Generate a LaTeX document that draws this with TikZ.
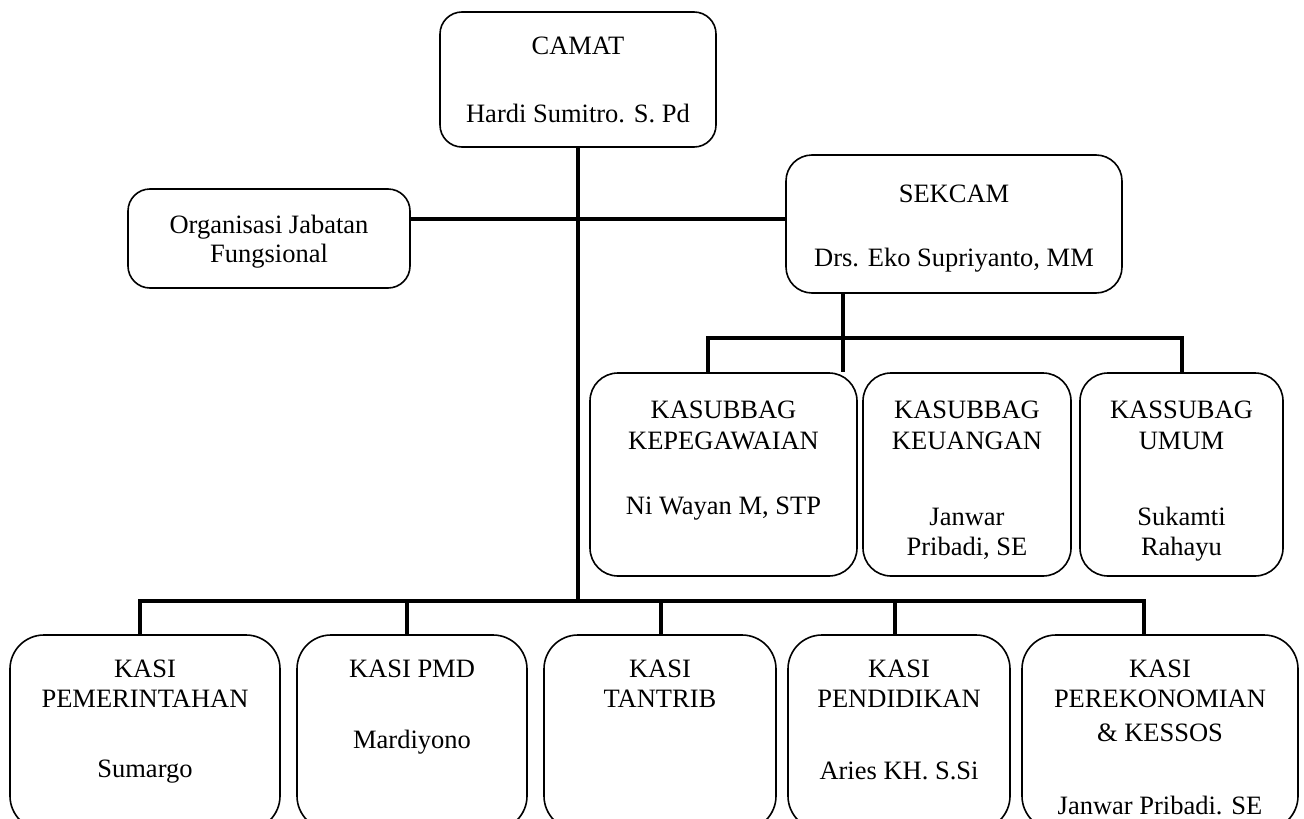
\documentclass[tikz,border=0pt]{standalone}
\usepackage{fontspec}
\setmainfont{Liberation Serif}
\begin{document}
\begin{tikzpicture}[x=1pt,y=-1pt,
  box/.style={draw, line width=1.6pt, rounded corners=28pt, inner sep=0pt},
  bigbox/.style={box, rounded corners=34pt},
  conn/.style={line width=4pt},
  txt/.style={anchor=base, inner sep=0pt, font=\fontsize{26.5}{30}\selectfont}]
\useasboundingbox (0,0) rectangle (1304,819);
\clip (0,0) rectangle (1304,819);
\fill[white] (0,0) rectangle (1304,819);

% top boxes
\node[box, rounded corners=22pt, minimum width=276pt, minimum height=135pt] (camat) at (578,79.5) {};
\node[box, rounded corners=22pt, minimum width=282pt, minimum height=99pt] (org) at (269,238.5) {};
\node[box, rounded corners=26pt, minimum width=336pt, minimum height=138pt] (sekcam) at (954,224) {};

% kasubbag boxes
\node[box, minimum width=267pt, minimum height=203pt] (sub1) at (723.5,474.5) {};
\node[box, minimum width=208pt, minimum height=203pt] (sub2) at (967,474.5) {};
\node[box, minimum width=203pt, minimum height=203pt] (sub3) at (1181.5,474.5) {};

% kasi boxes
\node[bigbox, minimum width=270pt, minimum height=195pt] (kasi1) at (145,732.5) {};
\node[bigbox, minimum width=230pt, minimum height=195pt] (kasi2) at (412,732.5) {};
\node[bigbox, minimum width=232pt, minimum height=195pt] (kasi3) at (660,732.5) {};
\node[bigbox, minimum width=222pt, minimum height=195pt] (kasi4) at (899,732.5) {};
\node[bigbox, minimum width=276pt, minimum height=195pt] (kasi5) at (1160,732.5) {};

% connectors
\coordinate (busA) at (580,219);
\coordinate (busB) at (580,601);
\coordinate (busC) at (843,338);
\draw[conn] (camat.south) -- (camat.south |- busB);
\draw[conn] (org.east |- busA) -- (sekcam.west |- busA);
\draw[conn] (sekcam.south -| busC) -- (busC);
\draw[conn] ([xshift=-16pt]sub1.north) |- (sub3.north |- busC) -- (sub3.north);
\draw[conn] (busC) -- (sub2.north -| busC);
\draw[conn] ([xshift=-5pt]kasi1.north) |- ([xshift=-16pt]kasi5.north |- busB) -- ([xshift=-16pt]kasi5.north);
\draw[conn] ([xshift=-5pt]kasi2.north) -- ([xshift=-5pt]kasi2.north |- busB);
\draw[conn] ([xshift=1pt]kasi3.north) -- ([xshift=1pt]kasi3.north |- busB);
\draw[conn] ([xshift=-4pt]kasi4.north) -- ([xshift=-4pt]kasi4.north |- busB);

% texts
\node[txt] (t1) at (578,54) {CAMAT};
\node[txt] (t2) at (578,122) {Hardi Sumitro. S. Pd};
\node[txt] (t3) at (269,233) {Organisasi Jabatan};
\node[txt] (t4) at (269,262) {Fungsional};
\node[txt] (t5) at (954,202) {SEKCAM};
\node[txt] (t6) at (954,266) {Drs. Eko Supriyanto, MM};

\node[txt] (t7) at (723.5,418) {KASUBBAG};
\node[txt] (t8) at (723.5,449) {KEPEGAWAIAN};
\node[txt] (t9) at (723.5,514) {Ni Wayan M, STP};
\node[txt] (t10) at (967,418) {KASUBBAG};
\node[txt] (t11) at (967,449) {KEUANGAN};
\node[txt] (t12) at (967,525) {Janwar};
\node[txt] (t13) at (967,555) {Pribadi, SE};
\node[txt] (t14) at (1181.5,418) {KASSUBAG};
\node[txt] (t15) at (1181.5,449) {UMUM};
\node[txt] (t16) at (1181.5,525) {Sukamti};
\node[txt] (t17) at (1181.5,555) {Rahayu};

\node[txt] (t18) at (145,677) {KASI};
\node[txt] (t19) at (145,707) {PEMERINTAHAN};
\node[txt] (t20) at (145,777) {Sumargo};
\node[txt] (t21) at (412,677) {KASI PMD};
\node[txt] (t22) at (412,748) {Mardiyono};
\node[txt] (t23) at (660,677) {KASI};
\node[txt] (t24) at (660,707) {TANTRIB};
\node[txt] (t25) at (899,677) {KASI};
\node[txt] (t26) at (899,707) {PENDIDIKAN};
\node[txt] (t27) at (899,779) {Aries KH. S.Si};
\node[txt] (t28) at (1160,677) {KASI};
\node[txt] (t29) at (1160,707) {PEREKONOMIAN};
\node[txt] (t30) at (1160,741) {\&\ KESSOS};
\node[txt] (t31) at (1160,814) {Janwar Pribadi. SE};
\end{tikzpicture}
\end{document}
